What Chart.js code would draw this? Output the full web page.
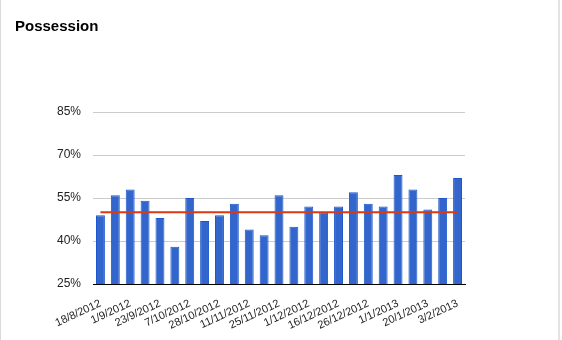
<!DOCTYPE html>
<html>
<head>
<meta charset="utf-8">
<script src="https://cdn.jsdelivr.net/npm/chart.js@4"></script>
<style>
  body { margin: 0; background: #fff; }
  #wrap { position: relative; width: 562px; height: 340px; }
  #wrap .edge { position: absolute; top: 0; height: 340px; }
  #left-edge { left: 0; width: 1px; background: #d9d9d9; }
  #right-edge { left: 558px; width: 2px; background: #e3e3e3; }
</style>
</head>
<body>
<div id="wrap">
  <canvas id="possession-chart" width="562" height="340"></canvas>
  <div class="edge" id="left-edge"></div>
  <div class="edge" id="right-edge"></div>
</div>
<script>
// match dates (only every other one is shown on the axis)
const matchDates = [
  "18/8/2012", "", "1/9/2012", "", "23/9/2012", "", "7/10/2012", "",
  "28/10/2012", "", "11/11/2012", "", "25/11/2012", "", "1/12/2012", "",
  "16/12/2012", "", "26/12/2012", "", "1/1/2013", "", "20/1/2013", "",
  "3/2/2013",
];
const possession = [
  49, 56, 58, 54, 48, 38, 55, 47, 49, 53, 44, 42, 56,
  45, 52, 50, 52, 57, 53, 52, 63, 58, 51, 55, 62,
];
const reference = [
  50, 50, 50, 50, 50, 50, 50, 50, 50, 50, 50, 50, 50,
  50, 50, 50, 50, 50, 50, 50, 50, 50, 50, 50, 50,
];
const yTicks = [25, 40, 55, 70, 85];

const FONT = "Arial, 'Liberation Sans', sans-serif";
const CANVAS = document.getElementById("possession-chart");

let possessionChart = new Chart(CANVAS, {
  type: "bar",
  data: {
    labels: matchDates,
    datasets: [
      {
        type: "line",
        label: "50%",
        data: reference,
        borderColor: "#dc3912",
        borderWidth: 2,
        pointRadius: 0,
        fill: false,
        order: 0,
      },
      {
        label: "Possession",
        data: possession,
        backgroundColor: "#3366cc",
        borderColor: "#1d55cc",
        borderWidth: 1,
        categoryPercentage: 1,
        barPercentage: 0.6,
        order: 1,
      },
    ],
  },
  options: {
    responsive: false,
    animation: false,
    layout: { padding: { left: 15, right: 97, top: 0, bottom: 0 } },
    plugins: {
      legend: { display: false },
      title: {
        display: true,
        text: "Possession",
        align: "start",
        color: "#000",
        font: { family: FONT, size: 15, weight: "bold" },
        padding: { top: 18, bottom: 76 },
      },
    },
    scales: {
      x: {
        grid: { display: false },
        border: { color: "#000", width: 1 },
        ticks: {
          autoSkip: false,
          minRotation: 25,
          maxRotation: 25,
          padding: 5,
          color: "#222",
          font: { family: FONT, size: 11 },
        },
        afterFit(scale) {
          scale.height = 56;
        },
      },
      y: {
        min: yTicks[0],
        max: yTicks[yTicks.length - 1],
        afterBuildTicks(scale) {
          scale.ticks = yTicks.map((v) => ({ value: v }));
        },
        ticks: {
          padding: 12,
          color: "#222",
          font: { family: FONT, size: 12 },
          callback: (v) => v + "%",
        },
        grid: { color: "#cccccc", drawTicks: false },
        border: { display: false },
        afterFit(scale) {
          scale.width = 78;
        },
      },
    },
  },
});
</script>
</body>
</html>
